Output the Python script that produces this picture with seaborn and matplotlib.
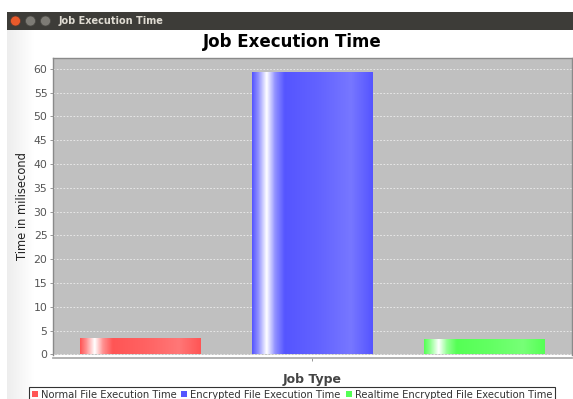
import numpy as np
import pandas as pd
import matplotlib
matplotlib.use("Agg")
import matplotlib.pyplot as plt
from matplotlib.patches import Rectangle, Circle, Patch
import seaborn as sns

# ---- data ----
series = ["Normal File Execution Time", "Encrypted File Execution Time",
          "Realtime Encrypted File Execution Time"]
values = [3.2, 59.2, 3.1]
category = [""] * 3
colors = ["#FF5555", "#5555FF", "#55FF55"]
yticks = list(range(0, 61, 5))

df = pd.DataFrame({"Job Type": category, "Series": series, "Time": values})

sns.set_theme(style="white")
plt.rcParams["font.family"] = ["DejaVu Sans"]

W, H = 573, 399
fig = plt.figure(figsize=(W / 100, H / 100), dpi=100)
fig.patch.set_facecolor("white")

# ---- window chrome (background axes in pixel coords) ----
bg = fig.add_axes([0, 0, 1, 1], zorder=-10)
grad = np.linspace(0.93, 1.0, 64)[None, :]
bg.imshow(np.dstack([grad, grad, grad]), extent=(7, 34, H, 30), aspect="auto")
bg.add_patch(Rectangle((7, 12), W - 7, 18, facecolor="#3D3C38", edgecolor="none"))
bg.add_patch(Circle((15.5, 21), 5, facecolor="#E95A2B", edgecolor="#5a3a30", lw=0.5))
bg.add_patch(Circle((30.5, 21), 5, facecolor="#7D7B75", edgecolor="#4a4944", lw=0.5))
bg.add_patch(Circle((45.5, 21), 5, facecolor="#7D7B75", edgecolor="#4a4944", lw=0.5))
bg.text(59, 21.5, "Job Execution Time", color="#DFDBD2", fontsize=7,
        fontweight="bold", va="center", ha="left")
bg.set_xlim(0, W)
bg.set_ylim(H, 0)
bg.axis("off")

# ---- plot ----
L, T, R, B = 53, 58, 572, 355
ax = fig.add_axes([L / W, 1 - B / H, (R - L) / W, (B - T) / H])
sns.barplot(data=df, x="Job Type", y="Time", hue="Series", palette=colors,
            hue_order=series, gap=0.3, width=0.8, legend=False,
            saturation=1, ax=ax, zorder=3, linewidth=0)

ax.set_facecolor("#C0C0C0")
ax.set_yticks(yticks)
ax.yaxis.grid(True, color="#EEEEEE", linestyle=(0, (2, 2)), linewidth=0.6)
ax.set_axisbelow(True)

# gradient shading on each bar
prof_t = [0.0, 0.05, 0.12, 0.19, 0.27, 0.55, 0.82, 1.0]
prof_m = [0.0, 0.35, 1.0, 0.35, 0.0, 0.08, 0.2, 0.0]
for p, c in zip(ax.patches, colors):
    x0, y0, w, h = p.get_x(), p.get_y(), p.get_width(), p.get_height()
    t = np.linspace(0, 1, 200)
    m = np.interp(t, prof_t, prof_m)
    base = np.array(matplotlib.colors.to_rgb(c))
    img = base[None, :] * (1 - m[:, None]) + m[:, None]
    ax.imshow(img[None, :, :], extent=(x0, x0 + w, y0, y0 + h),
              aspect="auto", zorder=4, interpolation="bilinear")

ax.set_xlim(-0.4016, 0.403)
ax.set_ylim(-0.15, 62.3)

for s in ["left", "top", "right"]:
    ax.spines[s].set_color("#8A8A8A")
    ax.spines[s].set_linewidth(1)
ax.spines["bottom"].set_color("#A8A8A8")
ax.spines["bottom"].set_position(("outward", 2))

ax.tick_params(axis="y", labelsize=7.8, labelcolor="#555555", color="#888888",
               length=2, width=0.6, left=True, pad=2)
ax.tick_params(axis="x", labelsize=8, color="#888888", length=2, width=0.6,
               bottom=True, pad=1)
ax.set_xticks([0])
ax.set_xticklabels([""])

ax.set_xlabel("Job Type", fontsize=9, fontweight="bold", color="#444444",
              labelpad=8)
ax.set_ylabel("Time in milisecond", fontsize=8.3, color="#222222", labelpad=3)

fig.text(292 / W, 1 - 42 / H, "Job Execution Time", fontsize=12,
         fontweight="bold", ha="center", va="center", color="black")

# legend
handles = [Patch(facecolor=c, edgecolor="none") for c in colors]
leg = fig.legend(handles, series, loc="upper center",
                 bbox_to_anchor=(292 / W, 1 - 387 / H), ncol=3, fontsize=7.2,
                 frameon=True, fancybox=False, handlelength=0.6,
                 handleheight=0.6, handletextpad=0.3, columnspacing=0.5,
                 borderpad=0.25, borderaxespad=0)
leg.get_frame().set_edgecolor("black")
leg.get_frame().set_linewidth(0.8)
for t_ in leg.get_texts():
    t_.set_color("#333333")

fig.savefig("out.png", dpi=100)
